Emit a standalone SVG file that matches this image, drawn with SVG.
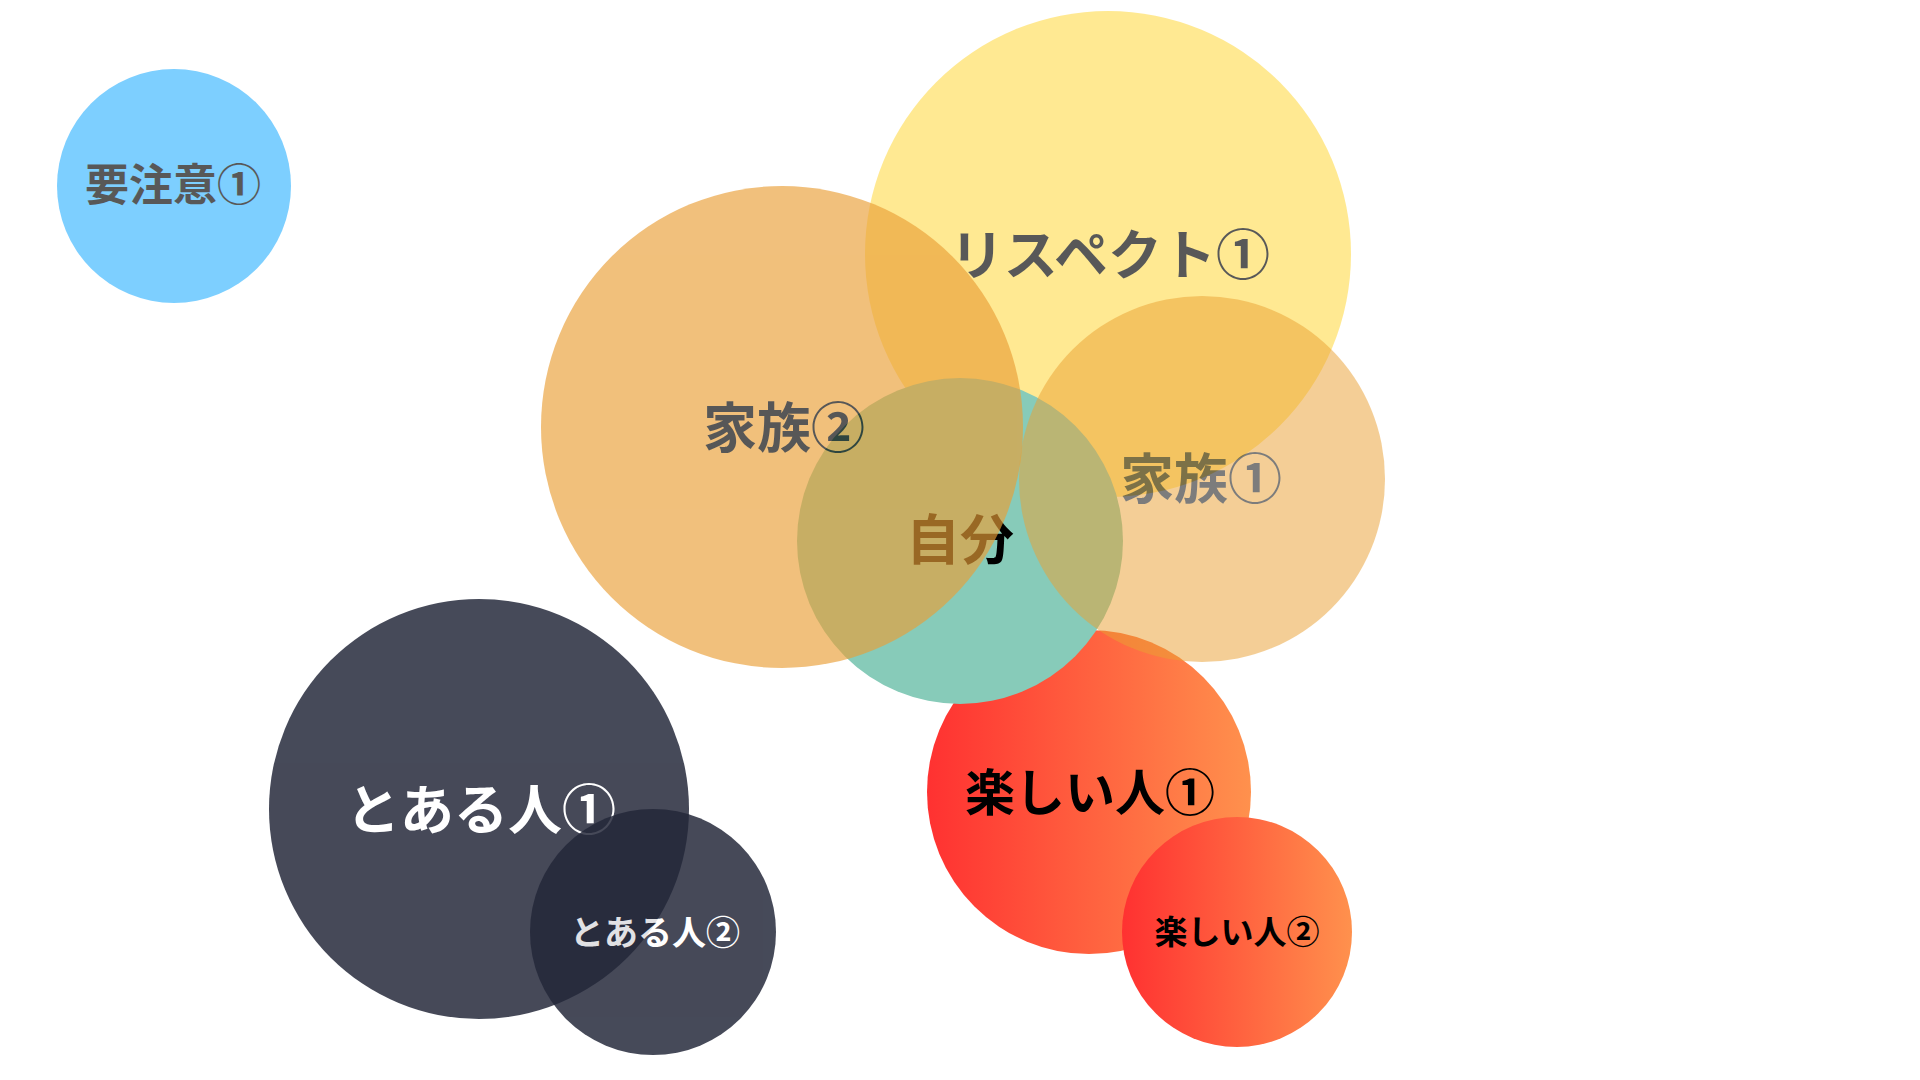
<svg xmlns="http://www.w3.org/2000/svg" width="1920" height="1080" viewBox="0 0 1920 1080">
  <defs>
    <linearGradient id="redGrad" x1="0" y1="0" x2="1" y2="0">
      <stop offset="0" stop-color="#FF3131"/>
      <stop offset="1" stop-color="#FF914D"/>
    </linearGradient>
    <style>
      text { font-family: "Noto Sans CJK JP", "Noto Sans", sans-serif; font-weight: 700; text-anchor: middle; dominant-baseline: central; }
      .dark { fill: #000000; }
      .white { fill: #FFFFFF; }
    </style>
  </defs>
  <rect width="1920" height="1080" fill="#FFFFFF"/>

  <g id="node-youchuui" opacity="0.65">
    <circle cx="174" cy="186" r="117" fill="#38B6FF"/>
    <text x="173" y="182" font-size="44" class="dark">要注意①</text>
  </g>

  <g id="node-tanoshii1">
    <circle cx="1089" cy="792" r="162" fill="url(#redGrad)"/>
    <text x="1090" y="789" font-size="50" class="dark">楽しい人①</text>
  </g>

  <g id="node-tanoshii2">
    <circle cx="1237" cy="932" r="115" fill="url(#redGrad)"/>
    <text x="1237" y="930" font-size="33" class="dark">楽しい人②</text>
  </g>

  <g id="node-toaru1" opacity="0.84">
    <circle cx="479" cy="809" r="210" fill="#232739"/>
    <text x="481" y="806" font-size="54" class="white">とある人①</text>
  </g>

  <g id="node-toaru2" opacity="0.84">
    <circle cx="653" cy="932" r="123" fill="#232739"/>
    <text x="655" y="930" font-size="34" class="white">とある人②</text>
  </g>

  <g id="node-respect" opacity="0.65">
    <circle cx="1108" cy="254" r="243" fill="#FFDE59"/>
    <text x="1110" y="251" font-size="54" class="dark">リスペクト①</text>
  </g>

  <g id="node-jibun">
    <circle cx="960" cy="541" r="163" fill="#87CBB9"/>
    <text x="960" y="536" font-size="54" class="dark">自分</text>
  </g>

  <g id="node-kazoku2" opacity="0.655">
    <circle cx="782" cy="427" r="241" fill="#EA9F37"/>
    <text x="784" y="424" font-size="54" class="dark">家族②</text>
  </g>

  <g id="node-kazoku1" opacity="0.51">
    <circle cx="1202" cy="479" r="183" fill="#EBA133"/>
    <text x="1201" y="475" font-size="54" class="dark">家族①</text>
  </g>
</svg>
